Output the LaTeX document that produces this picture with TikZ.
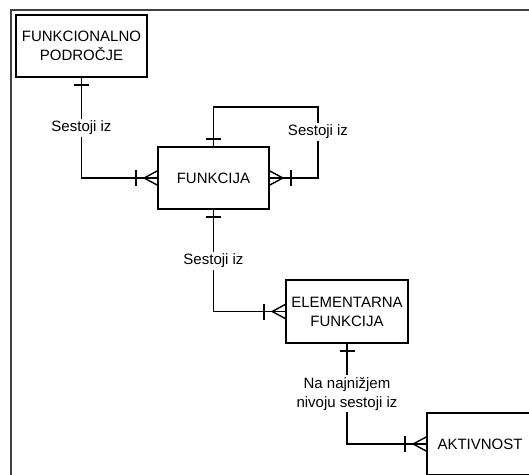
\documentclass[tikz,border=0pt]{standalone}
\usepackage{fontspec}
\setmainfont{Liberation Sans}
\begin{document}
\begin{tikzpicture}[x=1pt,y=-1pt,
 ent/.style={draw, line width=1.7pt, align=center, font=\fontsize{15}{19}\selectfont, inner sep=0pt},
 conn/.style={line width=1.4pt},
 lbl/.style={fill=white, align=center, font=\fontsize{15}{19}\selectfont, inner sep=2pt},
 onebar/.pic={\draw[conn] (7pt,-7.5pt) -- (7pt,7.5pt);},
 manyend/.pic={\draw[conn] (21pt,-8pt) -- (21pt,8pt); \draw[conn] (0pt,-7pt) -- (13pt,0pt) -- (0pt,7pt);}
]
\useasboundingbox (0,0) rectangle (529,474);
\clip (0,0) rectangle (529,474);
\draw[line width=1.2pt, draw=black!75] (11,10) rectangle (560,520);

\node[ent, minimum width=131pt, minimum height=62pt] (fp) at (81.5,46) {FUNKCIONALNO\\PODROČJE};
\node[ent, minimum width=111pt, minimum height=62pt] (fn) at (213.5,178) {FUNKCIJA};
\node[ent, minimum width=122pt, minimum height=63pt] (ef) at (347,311.5) {ELEMENTARNA\\FUNKCIJA};
\node[ent, minimum width=106pt, minimum height=62pt] (ak) at (480,444) {AKTIVNOST};

% FUNKCIONALNO PODROCJE -> FUNKCIJA
\draw[conn] (fp.south) |- node[lbl, pos=0.25] (l1) {Sestoji iz} (fn.west);
\pic[rotate=-90] at (fp.south) {onebar};
\pic[rotate=180] at (fn.west) {manyend};

% self loop
\coordinate (lt) at (213.5,107);
\coordinate (rt) at (318,107);
\draw[conn] (fn.north) -- (lt) -- (rt) |- (fn.east);
\node[lbl] (l2) at (318,132) {Sestoji iz};
\pic[rotate=90] at (fn.north) {onebar};
\pic at (fn.east) {manyend};

% FUNKCIJA -> ELEMENTARNA FUNKCIJA
\draw[conn] (fn.south) |- node[lbl, pos=0.25] (l3) {Sestoji iz} (ef.west);
\pic[rotate=-90] at (fn.south) {onebar};
\pic[rotate=180] at (ef.west) {manyend};

% ELEMENTARNA FUNKCIJA -> AKTIVNOST
\draw[conn] (ef.south) |- node[lbl, pos=0.25] (l4) {Na najnižjem\\nivoju sestoji iz} (ak.west);
\pic[rotate=-90] at (ef.south) {onebar};
\pic[rotate=180] at (ak.west) {manyend};
\end{tikzpicture}
\end{document}
